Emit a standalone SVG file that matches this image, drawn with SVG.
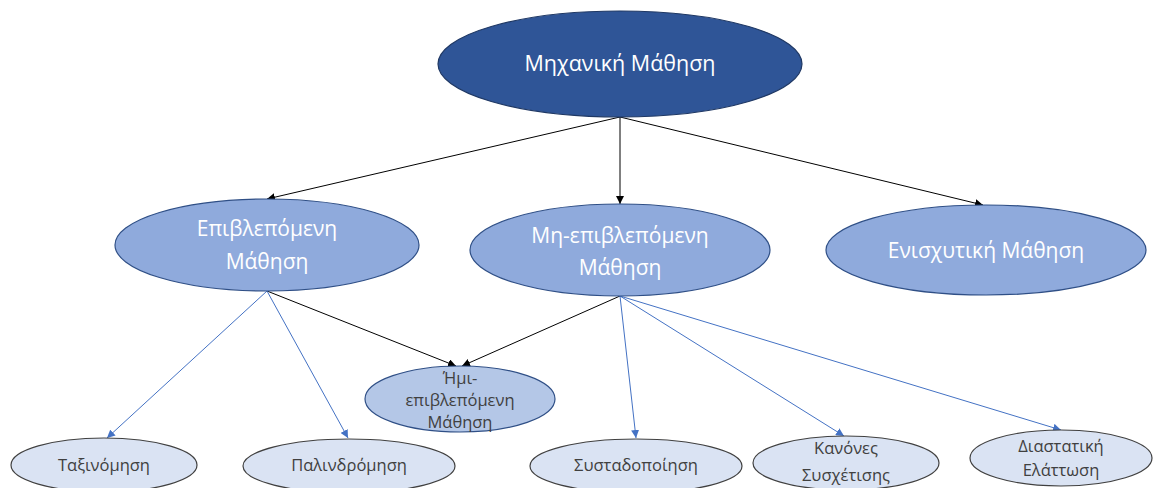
<svg xmlns="http://www.w3.org/2000/svg" width="1155" height="488" viewBox="0 0 1155 488">
<style>
text{font-family:"Open Sans","Liberation Sans",sans-serif;text-anchor:middle}
.top{fill:#2f5597;stroke:#1f3864;stroke-width:1.2}
.l2{fill:#8faadc;stroke:#2f4f86;stroke-width:1.2}
.semi{fill:#b4c7e7;stroke:#2f4f86;stroke-width:1.2}
.leaf{fill:#dae3f3;stroke:#404040;stroke-width:1.2}
.wt{fill:#ffffff}
.dt{fill:#404040}
.blk{stroke:#000;stroke-width:1;fill:none}
.blu{stroke:#4472c4;stroke-width:1;fill:none}
</style>
<defs>
<marker id="ab" viewBox="0 0 10 10" refX="10" refY="5" markerWidth="8" markerHeight="8" orient="auto" markerUnits="userSpaceOnUse"><path d="M0,0L10,5L0,10z" fill="#000"/></marker>
<marker id="au" viewBox="0 0 10 10" refX="10" refY="5" markerWidth="8" markerHeight="8" orient="auto" markerUnits="userSpaceOnUse"><path d="M0,0L10,5L0,10z" fill="#4472c4"/></marker>
</defs>
<rect width="1155" height="488" fill="#fff"/>
<g id="connectors">
<line class="blk" x1="620" y1="117" x2="267" y2="199" marker-end="url(#ab)"/>
<line class="blk" x1="620" y1="117" x2="620" y2="204" marker-end="url(#ab)"/>
<line class="blk" x1="620" y1="117" x2="983" y2="205" marker-end="url(#ab)"/>
<line class="blk" x1="267" y1="291" x2="456" y2="366" marker-end="url(#ab)"/>
<line class="blk" x1="620" y1="296" x2="462" y2="366" marker-end="url(#ab)"/>
<line class="blu" x1="267" y1="291" x2="107" y2="438" marker-end="url(#au)"/>
<line class="blu" x1="267" y1="291" x2="348" y2="438" marker-end="url(#au)"/>
<line class="blu" x1="620" y1="296" x2="636" y2="438" marker-end="url(#au)"/>
<line class="blu" x1="620" y1="296" x2="844" y2="436" marker-end="url(#au)"/>
<line class="blu" x1="620" y1="296" x2="1061" y2="430" marker-end="url(#au)"/>
</g>
<g id="n-ml">
<ellipse class="top" cx="620" cy="64" rx="182" ry="53"/>
<text class="wt" x="620" y="71" font-size="21.5">Μηχανική Μάθηση</text>
</g>
<g id="n-sup">
<ellipse class="l2" cx="267" cy="245" rx="152" ry="46"/>
<text class="wt" x="267" y="236" font-size="21">Επιβλεπόμενη</text>
<text class="wt" x="267" y="269" font-size="21">Μάθηση</text>
</g>
<g id="n-unsup">
<ellipse class="l2" cx="620" cy="250" rx="150" ry="46"/>
<text class="wt" x="620" y="243" font-size="21">Μη-επιβλεπόμενη</text>
<text class="wt" x="620" y="275" font-size="21">Μάθηση</text>
</g>
<g id="n-rl">
<ellipse class="l2" cx="986" cy="250" rx="160" ry="45"/>
<text class="wt" x="986" y="258" font-size="21">Ενισχυτική Μάθηση</text>
</g>
<g id="n-semi">
<ellipse class="semi" cx="460" cy="399" rx="95" ry="33"/>
<text class="dt" x="460" y="384" font-size="16.5">Ήμι-</text>
<text class="dt" x="460" y="406" font-size="16.5">επιβλεπόμενη</text>
<text class="dt" x="460" y="428" font-size="16.5">Μάθηση</text>
</g>
<g id="n-class">
<ellipse class="leaf" cx="104" cy="465" rx="93" ry="27"/>
<text class="dt" x="104" y="471" font-size="16.5">Ταξινόμηση</text>
</g>
<g id="n-reg">
<ellipse class="leaf" cx="349" cy="466" rx="106" ry="27"/>
<text class="dt" x="349" y="471" font-size="16.5">Παλινδρόμηση</text>
</g>
<g id="n-clust">
<ellipse class="leaf" cx="636" cy="466" rx="106" ry="27"/>
<text class="dt" x="636" y="471" font-size="16.5">Συσταδοποίηση</text>
</g>
<g id="n-assoc">
<ellipse class="leaf" cx="846" cy="463" rx="93" ry="27"/>
<text class="dt" x="846" y="454" font-size="16.5">Κανόνες</text>
<text class="dt" x="846" y="481" font-size="16.5">Συσχέτισης</text>
</g>
<g id="n-dim">
<ellipse class="leaf" cx="1061" cy="458" rx="91" ry="28"/>
<text class="dt" x="1061" y="452" font-size="16.5">Διαστατική</text>
<text class="dt" x="1061" y="476" font-size="16.5">Ελάττωση</text>
</g>
</svg>
